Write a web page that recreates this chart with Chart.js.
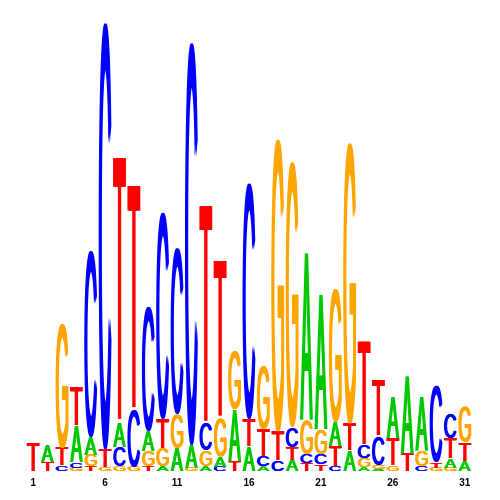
<!DOCTYPE html>
<html>
<head>
<meta charset="utf-8">
<script src="https://cdn.jsdelivr.net/npm/chart.js@4"></script>
<style>
  html, body { margin: 0; padding: 0; background: #fff; }
</style>
</head>
<body>
<canvas id="canvas" width="500" height="500"></canvas>
<script>
// information content (bits) per base at each position
const positions = ["1","2","3","4","5","6","7","8","9","10","11","12","13","14","15","16",
  "17","18","19","20","21","22","23","24","25","26","27","28","29","30","31"];
const tickLabels = ["1", "6", "11", "16", "21", "26", "31"];

const A = [0, 0.075, 0, 0.16, 0.08, 0, 0.11, 0, 0.09, 0.02, 0.10, 0.10, 0.02, 0.045, 0.23, 0.11,
  0.02, 0, 0.05, 0.74, 0.60, 0.11, 0.09, 0.015, 0.01, 0.18, 0.34, 0.24, 0, 0.04, 0.045];
const C = [0, 0, 0.025, 0.025, 0.83, 1.90, 0.085, 0.25, 0.55, 0.92, 0.74, 1.79, 0.12, 0.02, 0, 1.05,
  0.045, 0.045, 0.09, 0.04, 0.045, 0.02, 0, 0.06, 0.13, 0, 0, 0.02, 0.34, 0.11, 0];
const G = [0, 0, 0.55, 0.015, 0.05, 0.015, 0.02, 0.02, 0.07, 0.08, 0.15, 0.015, 0.07, 0.17, 0.26, 0,
  0.28, 1.30, 1.18, 0.15, 0.11, 0.59, 1.25, 0.04, 0.015, 0.025, 0, 0.07, 0.015, 0.015, 0.155];
const T = [0.125, 0.04, 0.08, 0.17, 0.02, 0.08, 1.18, 1.0, 0.02, 0.13, 0, 0, 0.97, 0.70, 0.045, 0.12,
  0.12, 0.13, 0.055, 0.035, 0.03, 0.09, 0.12, 0.46, 0.25, 0.12, 0.08, 0, 0.025, 0.09, 0.08];

const colors = { A: "#00c800", C: "#0000ff", G: "#ffa500", T: "#ff0000" };

// sort each column so the biggest letter sits on top
const ranked = [[], [], [], []];
const rankedLetters = [[], [], [], []];
positions.forEach((p, i) => {
  const col = [["A", A[i]], ["C", C[i]], ["G", G[i]], ["T", T[i]]];
  col.sort((a, b) => a[1] - b[1]);
  col.forEach((c, r) => {
    rankedLetters[r].push(c[0]);
    ranked[r].push(c[1]);
  });
});

function drawLetter(ctx, ch, x0, y0, w, h, color) {
  if (h < 0.5 || w < 2) return;
  ctx.save();
  ctx.font = '100px "Liberation Sans"';
  const m = ctx.measureText(ch);
  const gw = m.actualBoundingBoxLeft + m.actualBoundingBoxRight;
  const gh = m.actualBoundingBoxAscent + m.actualBoundingBoxDescent;
  ctx.fillStyle = color;
  ctx.textBaseline = "alphabetic";
  // a few shifted passes fatten the upright strokes a little
  const extra = 1.5;
  [0, 0.75, 1.5].forEach(dx => {
    ctx.save();
    ctx.translate(x0 + dx, y0);
    ctx.scale((w - extra) / gw, h / gh);
    ctx.fillText(ch, m.actualBoundingBoxLeft, m.actualBoundingBoxAscent);
    ctx.restore();
  });
  ctx.restore();
}

const letterPlugin = {
  id: "letters",
  afterDatasetsDraw(chart) {
    const ctx = chart.ctx;
    chart.data.datasets.forEach((ds, r) => {
      const meta = chart.getDatasetMeta(r);
      meta.data.forEach((bar, i) => {
        const p = bar.getProps(["x", "y", "base", "width"], true);
        const top = Math.min(p.y, p.base);
        const h = Math.abs(p.base - p.y);
        const ch = rankedLetters[r][i];
        drawLetter(ctx, ch, p.x - p.width / 2, top, p.width, h, colors[ch]);
      });
    });
  }
};

const myChart = new Chart("canvas", {
  type: "bar",
  data: {
    labels: positions,
    datasets: ranked.map((vals, r) => ({
      label: "rank " + r,
      data: vals,
      backgroundColor: "transparent",
      borderWidth: 0,
      barPercentage: 0.9,
      categoryPercentage: 1.0,
    })),
  },
  options: {
    responsive: false,
    animation: false,
    devicePixelRatio: 1,
    layout: { padding: { left: 26, right: 28, top: 21, bottom: 5 } },
    plugins: { legend: { display: false }, tooltip: { enabled: false } },
    scales: {
      x: {
        stacked: true,
        grid: { display: false, drawTicks: false },
        border: { display: false },
        ticks: {
          autoSkip: false,
          maxRotation: 0,
          padding: 6,
          color: "#000",
          font: { family: "Liberation Sans", size: 10, weight: "bold" },
          callback: function (v, i) {
            const lab = positions[i];
            return tickLabels.includes(lab) ? lab : "";
          },
        },
      },
      y: {
        stacked: true,
        display: false,
        min: 0,
        max: 2,
      },
    },
  },
  plugins: [letterPlugin],
});
</script>
</body>
</html>
